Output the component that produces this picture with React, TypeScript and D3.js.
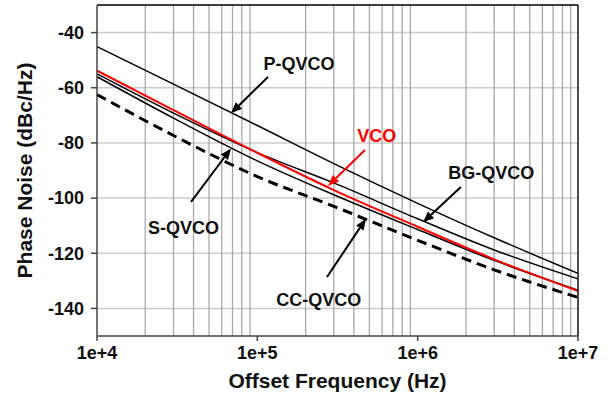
import React from 'react';
import * as d3 from 'd3';

const freqs = [1e4, 3e4, 1e5, 3e5, 1e6, 3e6, 1e7];

// phase noise, dBc/Hz
const pQvco = [-45.1, -58.7, -73.7, -87.5, -101.9, -114.4, -127.3];
const bgQvco = [-55.0, -69.2, -83.5, -94.5, -107.5, -118.8, -129.3];
const sQvco = [-56.0, -71.0, -86.5, -98.8, -111.4, -122.6, -133.4];
const vco = [-53.8, -68.1, -83.6, -97.1, -110.4, -122.2, -133.7];
const ccQvco = [-62.5, -77.3, -92.2, -103.0, -115.3, -126.0, -136.0];

const yTicks = [-40, -60, -80, -100, -120, -140];
const xTicks = [1e4, 1e5, 1e6, 1e7];
const xTickLabels = ['1e+4', '1e+5', '1e+6', '1e+7'];

// callouts in data units: label spot, arrow tail, arrow tip
const callouts = [
  { label: 'P-QVCO', color: '#000', text: [1.82e5, -51.2], from: [1.166e5, -56.1], to: [6.85e4, -69.2] },
  { label: 'VCO', color: '#ff0000', text: [5.55e5, -77.3], from: [4.69e5, -82.6], to: [2.76e5, -95.6] },
  { label: 'BG-QVCO', color: '#000', text: [2.88e6, -90.7], from: [1.86e6, -96.0], to: [1.08e6, -108.8] },
  { label: 'S-QVCO', color: '#000', text: [3.46e4, -110.9], from: [3.86e4, -101.4], to: [6.85e4, -82.0] },
  { label: 'CC-QVCO', color: '#000', text: [2.42e5, -137.0], from: [2.72e5, -128.6], to: [4.76e5, -107.5] },
];

const W = 611;
const H = 396;
const m = { left: 97, right: 33, top: 5, bottom: 60 };
const FONT = '"Liberation Sans", Arial, sans-serif';

export default function App() {
  const x = d3.scaleLog().domain([1e4, 1e7]).range([m.left, W - m.right]);
  const y = d3.scaleLinear().domain([-150, -30]).range([H - m.bottom, m.top]);

  const line = d3
    .line<number>()
    .x((_, i) => x(freqs[i]))
    .y((d) => y(d))
    .curve(d3.curveMonotoneX);

  // minor grid: 2..9 within every decade (no line at the decades themselves)
  const minor: number[] = [];
  [1e4, 1e5, 1e6].forEach((dec) => {
    for (let k = 2; k <= 9; k++) minor.push(dec * k);
  });

  const x0 = m.left;
  const x1 = W - m.right;
  const y0 = H - m.bottom;
  const y1 = m.top;

  const arrowHead = (fx: number, fy: number, tx: number, ty: number, color: string, key: string) => {
    const a = Math.atan2(ty - fy, tx - fx);
    const len = 11;
    const half = 4.5;
    const bx = tx - len * Math.cos(a);
    const by = ty - len * Math.sin(a);
    const px = -Math.sin(a) * half;
    const py = Math.cos(a) * half;
    return (
      <g key={key}>
        <line x1={fx} y1={fy} x2={bx} y2={by} stroke={color} strokeWidth={2} />
        <path d={`M${tx},${ty}L${bx + px},${by + py}L${bx - px},${by - py}Z`} fill={color} />
      </g>
    );
  };

  return (
    <svg width={W} height={H} style={{ position: 'absolute', left: 0, top: 0, background: '#fff' }} fontFamily={FONT}>
      <rect width={W} height={H} fill="#fff" />

      {/* grid */}
      {yTicks.map((t) => (
        <line key={'h' + t} x1={x0} x2={x1} y1={y(t)} y2={y(t)} stroke="#cccccc" strokeWidth={1.5} />
      ))}
      {minor.map((f) => (
        <line key={'v' + f} x1={x(f)} x2={x(f)} y1={y1} y2={y0} stroke="#a8a8a8" strokeWidth={1.3} />
      ))}

      {/* series */}
      <path d={line(pQvco) || ''} fill="none" stroke="#000" strokeWidth={1.5} />
      <path d={line(bgQvco) || ''} fill="none" stroke="#000" strokeWidth={1.5} />
      <path d={line(sQvco) || ''} fill="none" stroke="#000" strokeWidth={1.5} />
      <path d={line(ccQvco) || ''} fill="none" stroke="#000" strokeWidth={3} strokeDasharray="10,6" />
      <path d={line(vco) || ''} fill="none" stroke="#ff0000" strokeWidth={2} />

      {/* frame */}
      <line x1={x0} x2={x1} y1={y1} y2={y1} stroke="#000" strokeWidth={1.5} />
      <line x1={x1} x2={x1} y1={y1} y2={y0} stroke="#111" strokeWidth={1.5} />
      <line x1={x0} x2={x0} y1={y1} y2={y0} stroke="#444" strokeWidth={1.5} />
      <line x1={x0} x2={x1} y1={y0} y2={y0} stroke="#444" strokeWidth={1.5} />

      {/* y axis */}
      {yTicks.map((t) => (
        <g key={'yt' + t}>
          <line x1={x0 - 6} x2={x0} y1={y(t)} y2={y(t)} stroke="#444" strokeWidth={1.5} />
          <text x={x0 - 13} y={y(t)} dy="0.35em" textAnchor="end" fontSize={18} fontWeight="bold" fill="#111">
            {t}
          </text>
        </g>
      ))}

      {/* x axis */}
      {xTicks.map((t, i) => (
        <g key={'xt' + t}>
          <line x1={x(t)} x2={x(t)} y1={y0} y2={y0 + 5} stroke="#444" strokeWidth={1.5} />
          <text x={x(t)} y={y0 + 23} textAnchor="middle" fontSize={18} fontWeight="bold" fill="#111">
            {xTickLabels[i]}
          </text>
        </g>
      ))}

      <text x={(x0 + x1) / 2} y={388} textAnchor="middle" fontSize={21} fontWeight="bold" fill="#111">
        Offset Frequency (Hz)
      </text>
      <text
        transform={`translate(32,${(y0 + y1) / 2}) rotate(-90)`}
        textAnchor="middle"
        fontSize={21}
        fontWeight="bold"
        fill="#111"
      >
        Phase Noise (dBc/Hz)
      </text>

      {/* callouts */}
      {callouts.map((c) => (
        <g key={c.label}>
          {arrowHead(x(c.from[0]), y(c.from[1]), x(c.to[0]), y(c.to[1]), c.color, c.label + 'a')}
          <text
            x={x(c.text[0])}
            y={y(c.text[1])}
            dy="0.35em"
            textAnchor="middle"
            fontSize={18}
            fontWeight="bold"
            fill={c.color === '#000' ? '#111' : c.color}
          >
            {c.label}
          </text>
        </g>
      ))}
    </svg>
  );
}
